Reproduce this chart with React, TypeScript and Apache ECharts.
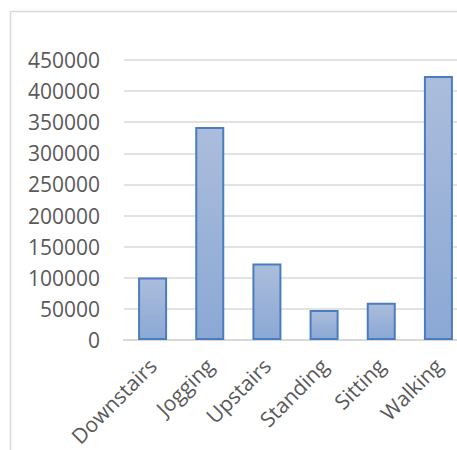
import React, { useEffect, useRef } from "react";
import * as echarts from "echarts";

// Sample counts per activity
const activities = ["Downstairs", "Jogging", "Upstairs", "Standing", "Sitting", "Walking"];
const counts = [100427, 342177, 122869, 48395, 59939, 424400];

const yMin = 0;
const yMax = 450000;
const yStep = 50000;

const labelFont = "'Open Sans', 'Liberation Sans', sans-serif";

export default function App() {
  const ref = useRef<HTMLDivElement>(null);

  useEffect(() => {
    if (!ref.current) return;
    const chart = echarts.init(ref.current, null, { renderer: "svg" });
    chart.setOption({
      animation: false,
      backgroundColor: "#ffffff",
      graphic: [
        {
          type: "line",
          shape: { x1: 10.5, y1: 11.5, x2: 457, y2: 11.5 },
          style: { stroke: "#d9d9d9", lineWidth: 1.5 },
          silent: true,
        },
        {
          type: "line",
          shape: { x1: 10.5, y1: 11.5, x2: 10.5, y2: 450 },
          style: { stroke: "#d9d9d9", lineWidth: 1.5 },
          silent: true,
        },
      ],
      grid: {
        left: 124,
        top: 60,
        width: 343,
        bottom: 110,
        containLabel: false,
        outerBoundsMode: "none",
      },
      xAxis: {
        type: "category",
        data: activities,
        axisLine: { show: true, lineStyle: { color: "#d9d9d9", width: 2 } },
        axisTick: { show: false },
        axisLabel: {
          rotate: 45,
          interval: 0,
          margin: 22,
          color: "#595959",
          fontSize: 21,
          fontFamily: labelFont,
        },
      },
      yAxis: {
        type: "value",
        min: yMin,
        max: yMax,
        interval: yStep,
        axisLine: { show: false },
        axisTick: { show: false },
        splitLine: { lineStyle: { color: "#d9d9d9", width: 1.5 } },
        axisLabel: {
          margin: 24,
          color: "#595959",
          fontSize: 21,
          fontFamily: labelFont,
          formatter: (v: number) => String(v),
        },
      },
      series: [
        {
          type: "bar",
          data: counts,
          barWidth: 29,
          itemStyle: {
            color: new echarts.graphic.LinearGradient(0, 0, 0, 1, [
              { offset: 0, color: "#abbddc" },
              { offset: 1, color: "#8ba8d5" },
            ]),
            borderColor: "#4a7dc0",
            borderWidth: 2,
          },
        },
      ],
    });
    return () => chart.dispose();
  }, []);

  return (
    <div
      ref={ref}
      style={{ position: "fixed", left: 0, top: 0, width: 457, height: 450 }}
    />
  );
}
